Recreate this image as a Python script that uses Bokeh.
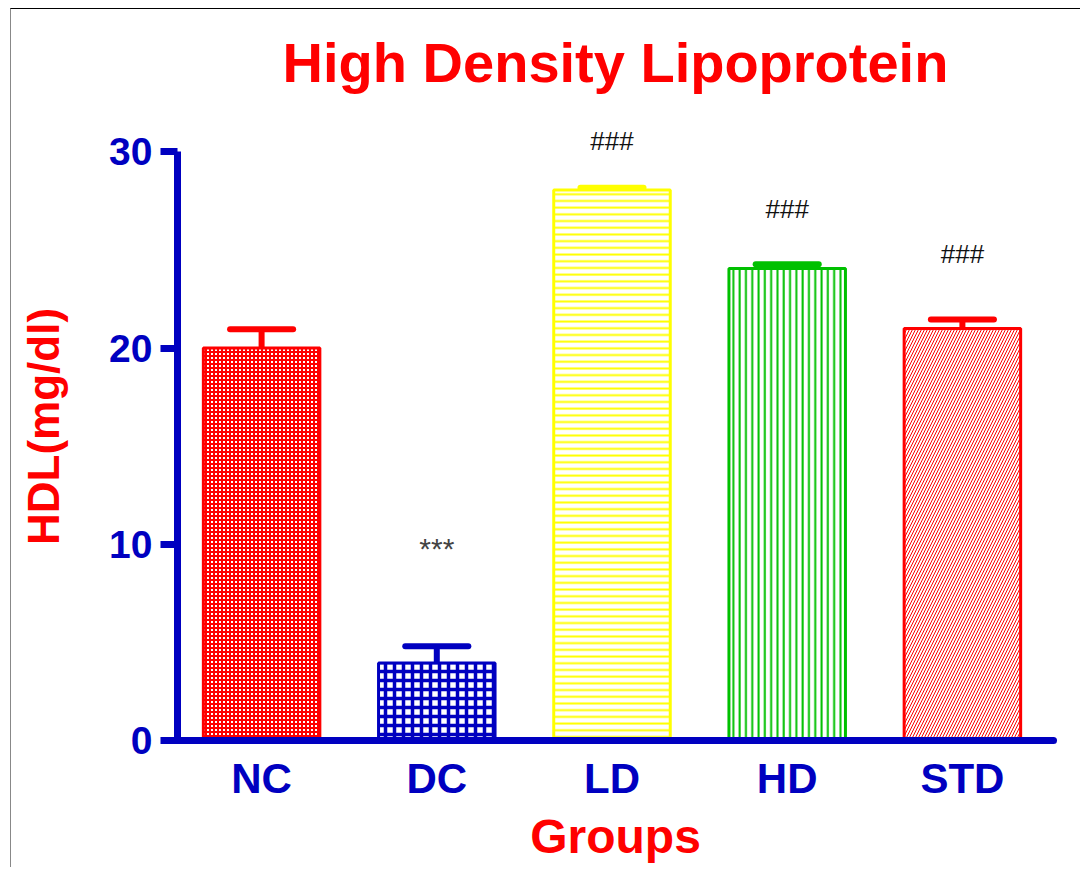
from bokeh.plotting import figure
from bokeh.models import Range1d, FixedTicker, ColumnDataSource
from bokeh.core.properties import value
from bokeh.embed import file_html
from bokeh.resources import INLINE

groups = ["NC", "DC", "LD", "HD", "STD"]
means = [20.0, 3.95, 28.05, 24.05, 21.0]
sem = [0.95, 0.85, 0.12, 0.22, 0.45]
marks = ["", "***", "###", "###", "###"]
mark_y = [None, 9.76, 30.53, 27.1, 24.8]

line_colors = ["#FF0000", "#0000C0", "#FFFF00", "#00C000", "#FF0000"]
hatches = ["cross", "cross", "horizontal_line", "vertical_line", "right_diagonal_line"]
hatch_scales = [4, 9, 6.7, 6.3, 6]
hatch_weights = [2, 3.5, 2, 2, 1]

BLUE = "#0000C0"
RED = "#FF0000"
FONT = "Liberation Sans"

xs = list(range(1, len(groups) + 1))
tops = [m + e for m, e in zip(means, sem)]

p = figure(width=1070, height=859, x_range=Range1d(0.52, 5.52), y_range=Range1d(0, 32),
           output_backend="svg", toolbar_location=None,
           min_border_left=166, min_border_right=28, min_border_top=102, min_border_bottom=128,
           title="High Density Lipoprotein")
p.styles = {"margin-left": "10px", "margin-top": "8px",
            "border-top": "1px solid #000000", "border-left": "1px solid #888888"}
p.outline_line_color = None
p.grid.visible = False
p.background_fill_color = "white"
p.border_fill_color = "white"

p.title.text_font = FONT
p.title.text_font_size = "56px"
p.title.text_font_style = "bold"
p.title.text_color = RED
p.title.align = "center"
p.title.standoff = 38

# bars
for i in range(len(groups)):
    src = ColumnDataSource(dict(x=[xs[i]], top=[means[i]]))
    p.vbar(x="x", top="top", bottom=0, width=0.665, source=src,
           fill_color="white", line_color=line_colors[i], line_width=3,
           hatch_pattern=hatches[i], hatch_color=line_colors[i],
           hatch_scale=hatch_scales[i], hatch_weight=hatch_weights[i])

# error bars (upper only)
cap_half = 0.18
p.segment(x0=xs, y0=means, x1=xs, y1=tops, line_color=line_colors, line_width=6)
p.segment(x0=[x - cap_half for x in xs], y0=tops, x1=[x + cap_half for x in xs], y1=tops,
          line_color=line_colors, line_width=6, line_cap="round")

# significance marks
mx = [x for x, m in zip(xs, marks) if m]
my = [y for y, m in zip(mark_y, marks) if m]
mt = [m for m in marks if m]
msz = ["30px" if m == "***" else "26px" for m in mt]
mcol = ["#444444" if m == "***" else "#111111" for m in mt]
p.text(x=mx, y=my, text=mt, text_align="center", text_baseline="middle",
       text_font=value(FONT), text_font_size=msz, text_color=mcol)

# y axis
ya = p.yaxis[0]
ya.ticker = FixedTicker(ticks=[0, 10, 20, 30])
ya.bounds = (0, 30)
ya.axis_line_color = BLUE
ya.axis_line_width = 7
ya.major_tick_line_color = BLUE
ya.major_tick_line_width = 7
ya.major_tick_out = 17
ya.major_tick_in = 0
ya.minor_tick_out = 0
ya.minor_tick_in = 0
ya.major_label_text_font = FONT
ya.major_label_text_font_size = "39px"
ya.major_label_text_font_style = "bold"
ya.major_label_text_color = BLUE
ya.major_label_standoff = 8
ya.axis_label = "HDL(mg/dl)"
ya.axis_label_text_font = FONT
ya.axis_label_text_font_size = "44px"
ya.axis_label_text_font_style = "bold"
ya.axis_label_text_color = RED
ya.axis_label_standoff = 38

# x axis
xa = p.xaxis[0]
xa.ticker = FixedTicker(ticks=xs)
xa.major_label_overrides = {x: g for x, g in zip(xs, groups)}
xa.axis_line_color = BLUE
xa.axis_line_width = 7
xa.axis_line_cap = "round"
xa.major_tick_out = 0
xa.major_tick_in = 0
xa.minor_tick_out = 0
xa.minor_tick_in = 0
xa.major_label_text_font = FONT
xa.major_label_text_font_size = "42px"
xa.major_label_text_font_style = "bold"
xa.major_label_text_color = BLUE
xa.major_label_standoff = 14
xa.axis_label = "Groups"
xa.axis_label_text_font = FONT
xa.axis_label_text_font_size = "48px"
xa.axis_label_text_font_style = "bold"
xa.axis_label_text_color = RED
xa.axis_label_standoff = 5

open("out.html", "w").write(file_html(p, INLINE))
